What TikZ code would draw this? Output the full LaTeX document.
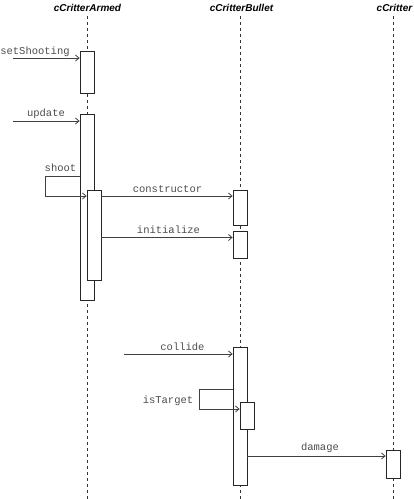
\documentclass[tikz,border=0pt]{standalone}
\usepackage{fontspec}
\setsansfont{Liberation Sans}
\setmonofont{Liberation Mono}
\usetikzlibrary{arrows.meta}
\begin{document}
\begin{tikzpicture}[x=1pt,y=-1pt,
  title/.style={font=\sffamily\bfseries\itshape\fontsize{10}{12}\selectfont, inner sep=0pt, anchor=center},
  life/.style={draw=black!80, line width=0.7pt, dash pattern=on 3pt off 3pt},
  act/.style={draw=black!85, fill=white, line width=0.8pt, minimum width=14pt, inner sep=0pt, anchor=north},
  msg/.style={draw=black!75, line width=0.8pt, -{Straight Barb[length=3.5pt,width=6pt]}},
  lbl/.style={font=\ttfamily\fontsize{10.5}{12}\selectfont, text=black!70, inner sep=0pt, anchor=center}]
\useasboundingbox (0,0) rectangle (414,499);
% titles
\node[title] (tA) at (87.5,8) {cCritterArmed};
\node[title] (tB) at (241.5,8) {cCritterBullet};
\node[title] (tC) at (394.5,8) {cCritter};
% lifeline ends
\coordinate (eA) at (87,499);
\coordinate (eB) at (240,499);
\coordinate (eC) at (393,499);
\draw[life] (87,16) -- (eA);
\draw[life] (240,16) -- (eB);
\draw[life] (393,16) -- (eC);
% activation boxes
\node[act, minimum height=42pt] (a1) at (87,51) {};
\node[act, minimum height=186pt] (a2) at (87,114) {};
\node[act, minimum height=90pt] (a3) at (94,189.5) {};
\node[act, minimum height=35pt] (b1) at (240,189.5) {};
\node[act, minimum height=27pt] (b2) at (240,231) {};
\node[act, minimum height=138pt] (b3) at (240,347) {};
\node[act, minimum height=27pt] (b4) at (247,402) {};
\node[act, minimum height=28pt] (c1) at (393,450) {};
% free ends
\coordinate (s1) at (13,58);
\coordinate (s2) at (13,121);
\coordinate (s3) at (124,354);
\coordinate (y1) at (0,176);
\coordinate (y2) at (0,196);
\coordinate (y3) at (0,237.5);
\coordinate (y4) at (0,389);
\coordinate (y5) at (0,409);
\coordinate (y6) at (0,456);
\coordinate (k1) at (45,0);
\coordinate (k2) at (199,0);
% messages
\draw[msg] (s1) -- (s1 -| a1.west);
\draw[msg] (s2) -- (s2 -| a2.west);
\draw[msg] (a2.west |- y1) -- (k1 |- y1) -- (k1 |- y2) -- (a3.west |- y2);
\draw[msg] (a3.east |- y2) -- (b1.west |- y2);
\draw[msg] (a3.east |- y3) -- (b2.west |- y3);
\draw[msg] (s3) -- (s3 -| b3.west);
\draw[msg] (b3.west |- y4) -- (k2 |- y4) -- (k2 |- y5) -- (b4.west |- y5);
\draw[msg] (b3.east |- y6) -- (c1.west |- y6);
% labels
\node[lbl] (l1) at (35,52) {setShooting};
\node[lbl] (l2) at (46,113.5) {update};
\node[lbl] (l3) at (60.5,168) {shoot};
\node[lbl] (l4) at (167.5,189) {constructor};
\node[lbl] (l5) at (168.5,230) {initialize};
\node[lbl] (l6) at (182.5,347) {collide};
\node[lbl] (l7) at (168,401) {isTarget};
\node[lbl] (l8) at (320,448) {damage};
\end{tikzpicture}
\end{document}
